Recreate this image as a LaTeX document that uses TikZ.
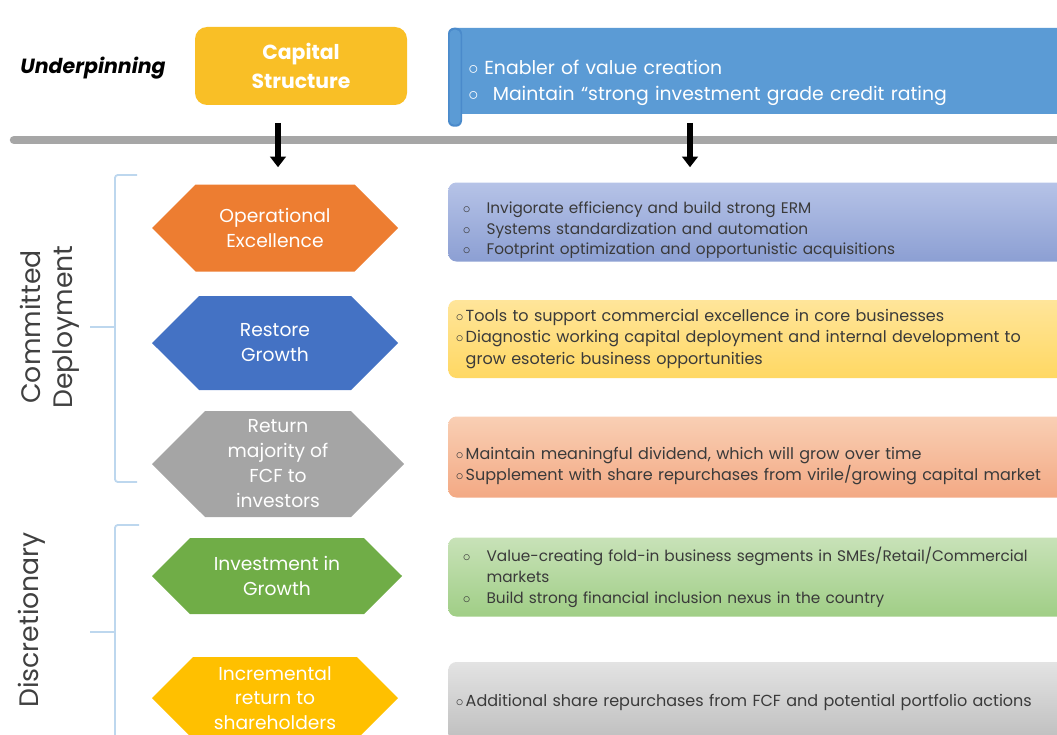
\documentclass[tikz,border=0pt]{standalone}
\usepackage{fontspec}
\setmainfont{Poppins}
\usetikzlibrary{shapes.symbols,arrows.meta,positioning}

\definecolor{capyellow}{HTML}{F9BF26}
\definecolor{bannerblue}{HTML}{5B9BD5}
\definecolor{bannerdark}{HTML}{4A8ACB}
\definecolor{hexorange}{HTML}{ED7D31}
\definecolor{hexblue}{HTML}{4472C4}
\definecolor{hexgray}{HTML}{A5A5A5}
\definecolor{hexgreen}{HTML}{70AD47}
\definecolor{hexyellow}{HTML}{FFC000}
\definecolor{bargray}{HTML}{A6A6A6}
\definecolor{bracketblue}{HTML}{BDD7EE}
\definecolor{labelgray}{HTML}{404040}
\definecolor{boxtext}{HTML}{3A3A3A}
\definecolor{lavtop}{HTML}{B6C3E7}
\definecolor{lavbot}{HTML}{8C9FD3}
\definecolor{goldtop}{HTML}{FFE59A}
\definecolor{goldbot}{HTML}{FFD863}
\definecolor{salmtop}{HTML}{F9CFB4}
\definecolor{salmbot}{HTML}{F3A984}
\definecolor{greentop}{HTML}{C8E2B8}
\definecolor{greenbot}{HTML}{A0CE86}
\definecolor{greytop}{HTML}{E3E3E3}
\definecolor{greybot}{HTML}{BEBEBE}

\newcommand{\pxu}{0.025cm}
\newcommand{\bl}[1][0.62em]{\makebox[#1][l]{$\circ$}}
\newcommand{\bli}{\hspace*{5pt}\makebox[1.55em][l]{$\circ$}}

\begin{document}
\begin{tikzpicture}[x=0.025cm,y=-0.025cm,
  hexa/.style={signal, signal to=west and east, signal pointer angle=90,
    fill=#1, draw=none, text=white, align=center,
    minimum width=246*\pxu, font=\fontsize{13.3}{17.8}\selectfont},
  rbox/.style 2 args={anchor=west, rounded corners=0.2cm,
    top color=#1, bottom color=#2, draw=none, text=boxtext,
    minimum width=625*\pxu, text width=610*\pxu, inner xsep=7*\pxu, inner ysep=0pt,
    align=left, font=\fontsize{11.4}{15}\selectfont},
  bigarrow/.style={line width=4pt, -{Triangle[width=11pt,length=7.5pt]}},
  bracket/.style={bracketblue, line width=1.3pt, rounded corners=2pt},
  sidelabel/.style={rotate=90, align=center, text=labelgray,
    font=\fontsize{19}{23}\selectfont}]

\useasboundingbox (0,0) rectangle (1057,735);

% top row
\node[font=\fontsize{14.6}{16}\selectfont\bfseries\itshape] (under) at (93,68) {Underpinning};
\node[fill=capyellow, rounded corners=0.3cm, text=white, align=center,
  minimum width=212*\pxu, minimum height=78*\pxu,
  font=\fontsize{14.5}{20.5}\selectfont\bfseries] (capital) at (301,66) {Capital\\Structure};
\node[anchor=west, fill=bannerblue, rounded corners=0.2cm, text=white, align=left,
  minimum width=625*\pxu, minimum height=86*\pxu, text width=590*\pxu,
  inner xsep=20*\pxu, inner ysep=0pt, font=\fontsize{13.4}{18}\selectfont] (credit) at (448,71)
  {\rule{0pt}{27pt}\bl[0.85em]Enabler of value creation\\
   \bl[1.3em]Maintain “strong investment grade credit rating};
\fill[bannerdark, rounded corners=0.15cm] (credit.north west) rectangle ++(14,99);
\fill[bannerblue, rounded corners=0.12cm] ([xshift=1.5*\pxu, yshift=-2*\pxu]credit.north west) rectangle ++(11,95);

% divider
\draw[bargray, line width=6pt, line cap=round] (14,140) -- (1070,140);

% left column
\node[hexa=hexorange, minimum height=87*\pxu] (opex) at (275,228) {Operational\\Excellence};
\node[hexa=hexblue, minimum height=94*\pxu] (restore) at (275,343) {Restore\\Growth};
\node[hexa=hexgray, minimum height=106*\pxu, minimum width=252*\pxu] (fcf) at (278,464)
  {Return\\majority of\\FCF to\\investors};
\node[hexa=hexgreen, minimum height=76*\pxu, minimum width=250*\pxu] (invest) at (277,576) {Investment in\\Growth};
\node[hexa=hexyellow, minimum height=82*\pxu, font=\fontsize{13.3}{17.2}\selectfont] (incr) at (275,698) {Incremental\\return to\\shareholders};

% right column
\node[rbox={lavtop}{lavbot}, minimum height=79*\pxu, font=\fontsize{10.9}{14.6}\selectfont] (box1) at (448,222)
  {\rule{0pt}{20pt}\bli Invigorate efficiency and build strong ERM\\
   \bli Systems standardization and automation\\
   \bli Footprint optimization and opportunistic acquisitions};
\node[rbox={goldtop}{goldbot}, minimum height=78*\pxu] (box2) at (448,339)
  {\bl Tools to support commercial excellence in core businesses\\
   \bl Diagnostic working capital deployment and internal development to\\
   \hspace*{0.62em}grow esoteric business opportunities};
\node[rbox={salmtop}{salmbot}, minimum height=81*\pxu] (box3) at (448,457)
  {\rule{0pt}{22pt}\bl Maintain meaningful dividend, which will grow over time\\
   \bl Supplement with share repurchases from virile/growing capital market};
\node[rbox={greentop}{greenbot}, minimum height=79*\pxu, font=\fontsize{10.9}{15}\selectfont] (box4) at (448,577)
  {\bli Value-creating fold-in business segments in SMEs/Retail/Commercial\\
   \hspace*{5pt}\hspace*{1.55em}markets\\
   \bli Build strong financial inclusion nexus in the country};
\node[rbox={greytop}{greybot}, minimum height=80*\pxu] (box5) at (448,702)
  {\bl Additional share repurchases from FCF and potential portfolio actions};

% arrows
\coordinate (capdown) at (278,123);
\coordinate (creditdown) at (690,123);
\draw[bigarrow, shorten >=17*\pxu] (capdown) -- (capdown |- opex.north);
\draw[bigarrow, shorten >=15*\pxu] (creditdown) -- (creditdown |- box1.north);

% brackets
\draw[bracket] (137,175) -- (115,175) -- (115,482) -- (137,482);
\draw[bracket] (115,327) -- (90,327);
\draw[bracket] (139,525) -- (115,525) -- (115,745);
\draw[bracket] (115,632) -- (90,632);

\node[sidelabel] (committed) at (50,327) {Committed\\Deployment};
\node[sidelabel] (discret) at (32,620) {Discretionary};

\end{tikzpicture}
\end{document}
